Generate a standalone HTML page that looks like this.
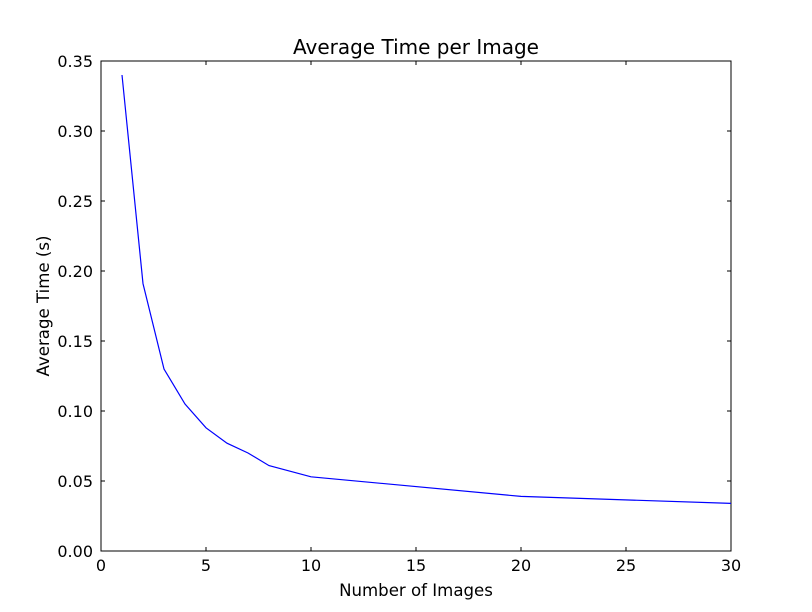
<!DOCTYPE html>
<html><head><meta charset="utf-8"><style>
body{margin:0;background:#fff;}
svg{display:block;font-family:"DejaVu Sans","Liberation Sans",sans-serif;}
</style></head><body>
<svg id="chart" width="812" height="612"></svg>
<script>
const xValues=[1,2,3,4,5,6,7,8,9,10,20,30];
const yValues=[0.340,0.191,0.130,0.105,0.088,0.077,0.070,0.061,0.057,0.053,0.039,0.034];
const xTicks=[0,5,10,15,20,25,30];
const yTicks=[0,0.05,0.10,0.15,0.20,0.25,0.30,0.35];
const yTickLabels=["0.00","0.05","0.10","0.15","0.20","0.25","0.30","0.35"];

const L=101,R=731,T=61,B=551;
const sx=v=>L+(v-0)/(30-0)*(R-L);
const sy=v=>B-(v-0)/(0.35-0)*(B-T);
const svg=document.getElementById('chart');
const NS='http://www.w3.org/2000/svg';
function mk(tag,attrs,parent){const e=document.createElementNS(NS,tag);for(const k in attrs)e.setAttribute(k,attrs[k]);(parent||svg).appendChild(e);return e;}

const frame=mk('rect',{x:L,y:T,width:R-L,height:B-T,fill:'none',stroke:'#000','stroke-width':1});



xTicks.forEach(t=>{
  const x=sx(t);
  const g=mk('g',{});
  
  
  mk('line',{x1:x,y1:B,x2:x,y2:B-4,stroke:'#000'},g);
  mk('line',{x1:x,y1:T,x2:x,y2:T+4,stroke:'#000'},g);
  const tx=mk('text',{x:x,y:B+20,'text-anchor':'middle','font-size':16},g);
  tx.textContent=t;
});
yTicks.forEach((t,i)=>{
  const y=sy(t);
  const g=mk('g',{});
  
  
  mk('line',{x1:L,y1:y,x2:L+4,y2:y,stroke:'#000'},g);
  mk('line',{x1:R,y1:y,x2:R-4,y2:y,stroke:'#000'},g);
  const tx=mk('text',{x:L-8,y:y+6,'text-anchor':'end','font-size':16},g);
  tx.textContent=yTickLabels[i];
});

const pts=xValues.map((v,i)=>sx(v).toFixed(1)+','+sy(yValues[i]).toFixed(1)).join(' ');
const line=mk('polyline',{points:pts,fill:'none',stroke:'#0000ff','stroke-width':1.2});



const title=mk('text',{x:(L+R)/2,y:54,'text-anchor':'middle','font-size':20});
title.textContent='Average Time per Image';



const xt=mk('text',{x:(L+R)/2,y:596,'text-anchor':'middle','font-size':16.6});
xt.textContent='Number of Images';



const yt=mk('text',{x:0,y:0,'text-anchor':'middle','font-size':16.6,transform:'translate(49,306) rotate(-90)'});
yt.textContent='Average Time (s)';


</script>
</body></html>
